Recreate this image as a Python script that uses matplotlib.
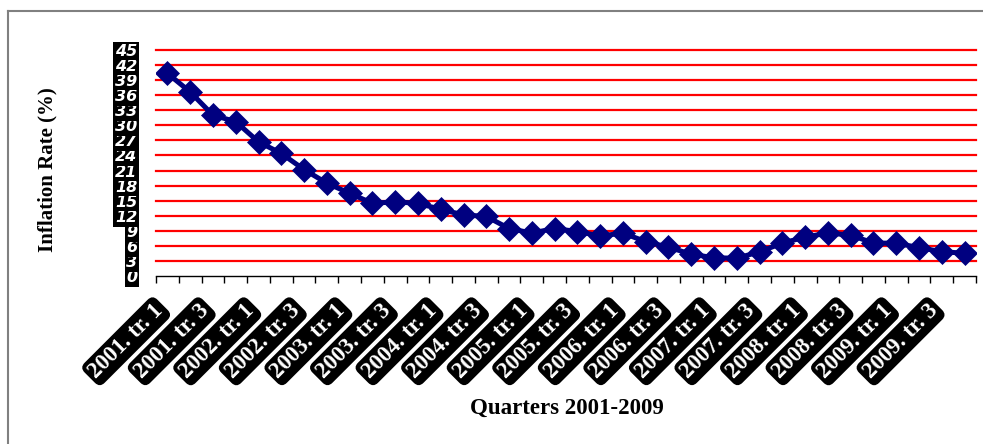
import matplotlib
matplotlib.use("Agg")
import matplotlib.pyplot as plt
from matplotlib.lines import Line2D
import numpy as np

# Quarterly inflation rate, 2001-2009
years = [2001, 2002, 2003, 2004, 2005, 2006, 2007, 2008, 2009]
quarters = [1, 2, 3, 4]
categories = [f"{y}. tr. {q}" for y in years for q in quarters]
inflation = [40.3, 36.6, 32.0, 30.7, 26.7, 24.4, 21.2, 18.5,
             16.5, 14.5, 14.8, 14.5, 13.3, 12.2, 11.9, 9.5,
             8.6, 9.5, 8.9, 8.0, 8.6, 6.9, 5.8, 4.4,
             3.7, 3.6, 4.9, 6.6, 7.8, 8.6, 8.2, 6.6,
             6.6, 5.7, 4.9, 4.6]
y_ticks = list(range(0, 46, 3))

W, H = 983, 444
fig = plt.figure(figsize=(W / 100, H / 100), dpi=100)
fig.patch.set_facecolor("white")

# plot area in pixel coordinates
left, right, top, bottom = 156, 976, 49.6, 276.4
ax = fig.add_axes([left / W, 1 - bottom / H, (right - left) / W, (bottom - top) / H])

x = np.arange(len(categories))
ax.plot(x, inflation, color="#000080", lw=3.6, marker="D", ms=11.8,
        mec="#000080", mew=0.5, zorder=3, solid_joinstyle="round")

ax.set_xlim(-0.5, len(categories) - 0.5)
ax.set_ylim(0, 45)

# red horizontal gridlines
for v in y_ticks[1:]:
    ax.axhline(v, color="#ff0000", lw=1.6, zorder=1, clip_on=False)

for s in ["left", "right", "top"]:
    ax.spines[s].set_visible(False)
ax.spines["bottom"].set_color("black")
ax.spines["bottom"].set_linewidth(1.0)

# y ticks: white bold italic digits on black
ax.set_yticks(y_ticks)
ax.set_yticklabels([str(v) for v in y_ticks])
ax.tick_params(axis="y", length=0, pad=13.5)
for lab in ax.get_yticklabels():
    lab.set_fontfamily("DejaVu Sans")
    lab.set_fontweight("bold")
    lab.set_fontstyle("italic")
    lab.set_fontsize(11.5)
    lab.set_color("white")
    lab.set_bbox(dict(boxstyle="square,pad=0.1", fc="black", ec="none"))

# x ticks: marks at category boundaries, labels on every other category
ax.set_xticks(np.arange(-0.5, len(categories), 1.0))
ax.set_xticklabels([])
ax.tick_params(axis="x", which="major", direction="out", length=5, width=1, color="black")
ax.set_xticks(x[::2], minor=True)
ax.set_xticklabels(categories[::2], minor=True)
ax.tick_params(axis="x", which="minor", length=0, pad=17)
for lab in ax.get_xticklabels(minor=True):
    lab.set_fontfamily("Liberation Serif")
    lab.set_fontweight("bold")
    lab.set_fontsize(16.5)
    lab.set_color("white")
    lab.set_rotation(45)
    lab.set_ha("right")
    lab.set_va("top")
    lab.set_bbox(dict(boxstyle="round,pad=0.16,rounding_size=0.3", fc="black", ec="none"))

# axis titles
fig.text(47 / W, 1 - 170 / H, "Inflation Rate (%)", rotation=90, ha="center", va="center",
         fontfamily="Liberation Serif", fontweight="bold", fontsize=15, color="black")
fig.text(567 / W, 1 - 408 / H, "Quarters 2001-2009", ha="center", va="center",
         fontfamily="Liberation Serif", fontweight="bold", fontsize=16.5, color="black")

# outer chart border (left and top edges)
fig.add_artist(Line2D([8 / W, 8 / W], [0, 1 - 11 / H], transform=fig.transFigure,
                      color="#808080", lw=1.5))
fig.add_artist(Line2D([8 / W, 1], [1 - 11 / H, 1 - 11 / H], transform=fig.transFigure,
                      color="#808080", lw=1.5))

fig.savefig("out.png", dpi=100, facecolor="white")
